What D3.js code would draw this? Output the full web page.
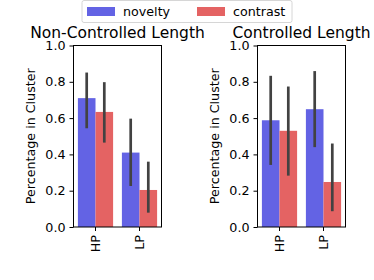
<!DOCTYPE html>
<html>
<head>
<meta charset="utf-8">
<script src="https://cdn.jsdelivr.net/npm/d3@7"></script>
<style>
  body { margin: 0; background: #fff; }
  text { font-family: "DejaVu Sans", sans-serif; fill: #000; }
</style>
</head>
<body>
<div class="canvas"></div>
<script>
// data
const categories = ["HP", "LP"];
const hues = ["novelty", "contrast"];
const panelTitles = ["Non-Controlled Length", "Controlled Length"];
const yTicks = [0, 0.2, 0.4, 0.6, 0.8, 1.0];

// [panel][category] values, ci low, ci high
const noveltyMean = [[0.71, 0.41], [0.588, 0.649]];
const noveltyLow = [[0.544, 0.226], [0.342, 0.44]];
const noveltyHigh = [[0.851, 0.597], [0.833, 0.859]];
const contrastMean = [[0.634, 0.204], [0.53, 0.248]];
const contrastLow = [[0.465, 0.079], [0.283, 0.087]];
const contrastHigh = [[0.798, 0.36], [0.774, 0.46]];

const colors = { novelty: "#6363e4", contrast: "#e46363" };

const width = 374;
const height = 280;
const fontSize = "12.7px";

const svg = d3
  .select(".canvas")
  .append("svg")
  .attr("width", width)
  .attr("height", height);

const panels = [
  { left: 73.5, width: 88 },
  { left: 257.5, width: 88 },
];
const plotTop = 45.5;
const plotBottom = 227;

const y = d3.scaleLinear().domain([0, 1]).range([plotBottom, plotTop]);

panels.forEach((p, pi) => {
  const x0 = d3
    .scaleBand()
    .domain(categories)
    .range([p.left, p.left + p.width])
    .paddingInner(0.2)
    .paddingOuter(0.1);
  const x1 = d3.scaleBand().domain(hues).range([0, x0.bandwidth()]);

  const rows = [];
  categories.forEach((c, ci) => {
    rows.push({ cat: c, hue: "novelty", v: noveltyMean[pi][ci], lo: noveltyLow[pi][ci], hi: noveltyHigh[pi][ci] });
    rows.push({ cat: c, hue: "contrast", v: contrastMean[pi][ci], lo: contrastLow[pi][ci], hi: contrastHigh[pi][ci] });
  });

  const g = svg.append("g");

  // bars
  g.selectAll("rect.bar")
    .data(rows)
    .enter()
    .append("rect")
    .attr("class", "bar")
    .attr("x", (d) => x0(d.cat) + x1(d.hue))
    .attr("width", x1.bandwidth())
    .attr("y", (d) => y(d.v))
    .attr("height", (d) => y(0) - y(d.v))
    .attr("fill", (d) => colors[d.hue]);

  // error bars
  g.selectAll("line.err")
    .data(rows)
    .enter()
    .append("line")
    .attr("class", "err")
    .attr("x1", (d) => x0(d.cat) + x1(d.hue) + x1.bandwidth() / 2)
    .attr("x2", (d) => x0(d.cat) + x1(d.hue) + x1.bandwidth() / 2)
    .attr("y1", (d) => y(d.lo))
    .attr("y2", (d) => y(d.hi))
    .attr("stroke", "#424242")
    .attr("stroke-width", 2.7);

  // frame
  g.append("rect")
    .attr("x", p.left)
    .attr("y", plotTop)
    .attr("width", p.width)
    .attr("height", plotBottom - plotTop)
    .attr("fill", "none")
    .attr("stroke", "#000")
    .attr("stroke-width", 1);

  // axes
  const yAxis = d3
    .axisLeft(y)
    .tickValues(yTicks)
    .tickFormat(d3.format(".1f"))
    .tickSize(4)
    .tickPadding(4);
  const yG = g.append("g").attr("transform", `translate(${p.left},0)`).call(yAxis);
  yG.select(".domain").remove();
  yG.selectAll("text").style("font-size", fontSize);

  const xAxis = d3.axisBottom(x0).tickSize(4).tickPadding(4);
  const xG = g.append("g").attr("transform", `translate(0,${plotBottom})`).call(xAxis);
  xG.select(".domain").remove();
  xG.selectAll("text")
    .style("font-size", fontSize)
    .attr("transform", "rotate(-90)")
    .attr("text-anchor", "end")
    .attr("x", -8)
    .attr("y", 0)
    .attr("dy", "0.35em");

  // title
  g.append("text")
    .attr("x", p.left + p.width / 2)
    .attr("y", 37.5)
    .attr("text-anchor", "middle")
    .style("font-size", "15.5px")
    .text(panelTitles[pi]);

  // y label
  g.append("text")
    .attr("transform", `translate(${p.left - 39},${(plotTop + plotBottom) / 2}) rotate(-90)`)
    .attr("text-anchor", "middle")
    .style("font-size", fontSize)
    .text("Percentage in Cluster");
});

// legend
const legend = svg.append("g");
legend
  .append("rect")
  .attr("x", 82)
  .attr("y", 0.5)
  .attr("width", 210)
  .attr("height", 22)
  .attr("rx", 2)
  .attr("fill", "#fff")
  .attr("stroke", "#d6d6d6");
const legendX = d3.scaleOrdinal().domain(hues).range([87, 197]);
hues.forEach((h) => {
  legend
    .append("rect")
    .attr("x", legendX(h))
    .attr("y", 7)
    .attr("width", 28)
    .attr("height", 9)
    .attr("fill", colors[h]);
  legend
    .append("text")
    .attr("x", legendX(h) + 36)
    .attr("y", 16)
    .style("font-size", fontSize)
    .text(h);
});
</script>
</body>
</html>
